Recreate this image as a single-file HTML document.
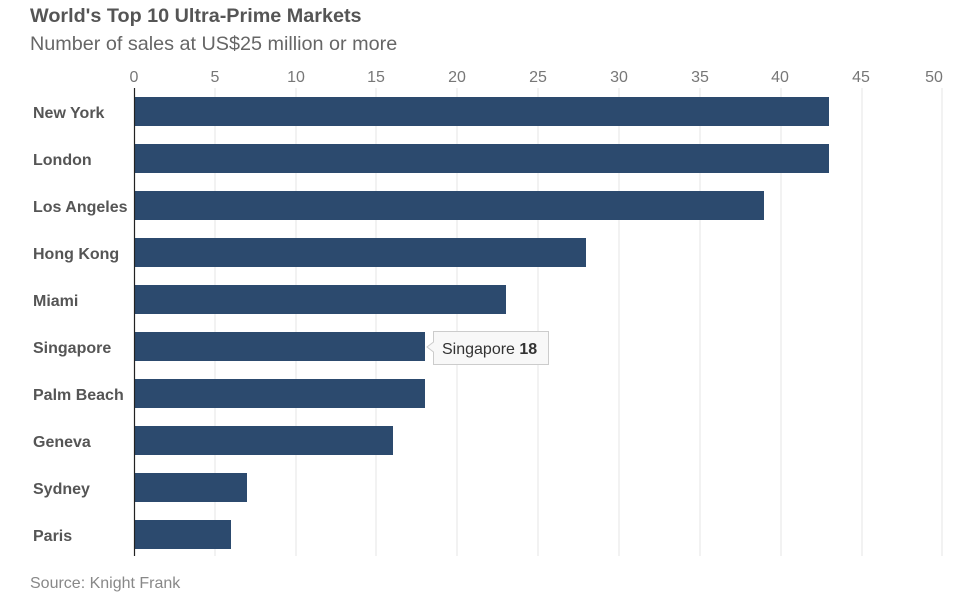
<!DOCTYPE html>
<html><head><meta charset="utf-8"><style>
body{margin:0;background:#fff;}
svg{display:block;font-family:"Liberation Sans",Arial,sans-serif;}
</style></head><body>
<svg width="960" height="614" viewBox="0 0 960 614">
<rect width="960" height="614" fill="#fff"/>
<text x="30" y="22" font-size="19.8" font-weight="bold" fill="#555">World's Top 10 Ultra-Prime Markets</text>
<text x="30" y="50" font-size="19.8" fill="#666">Number of sales at US$25 million or more</text>
<g fill="#777" font-size="16" text-anchor="middle">
<text x="134" y="82">0</text><text x="215" y="82">5</text><text x="296" y="82">10</text><text x="376" y="82">15</text><text x="457" y="82">20</text><text x="538" y="82">25</text><text x="619" y="82">30</text><text x="700" y="82">35</text><text x="780" y="82">40</text><text x="861" y="82">45</text><text x="934" y="82">50</text>
</g>
<g stroke="#e6e6e6" stroke-width="1">
<line x1="215" y1="88" x2="215" y2="556"/><line x1="296" y1="88" x2="296" y2="556"/><line x1="376" y1="88" x2="376" y2="556"/><line x1="457" y1="88" x2="457" y2="556"/><line x1="538" y1="88" x2="538" y2="556"/><line x1="619" y1="88" x2="619" y2="556"/><line x1="700" y1="88" x2="700" y2="556"/><line x1="781" y1="88" x2="781" y2="556"/><line x1="862" y1="88" x2="862" y2="556"/><line x1="942" y1="88" x2="942" y2="556"/>
</g>
<g fill="#2c4a6e">
<rect x="134" y="97" width="695" height="29"/>
<rect x="134" y="144" width="695" height="29"/>
<rect x="134" y="191" width="630" height="29"/>
<rect x="134" y="238" width="452" height="29"/>
<rect x="134" y="285" width="372" height="29"/>
<rect x="134" y="332" width="291" height="29"/>
<rect x="134" y="379" width="291" height="29"/>
<rect x="134" y="426" width="259" height="29"/>
<rect x="134" y="473" width="113" height="29"/>
<rect x="134" y="520" width="97" height="29"/>
</g>
<line x1="134.5" y1="88" x2="134.5" y2="556" stroke="#222" stroke-width="1.2"/>
<g fill="#555" font-size="16" font-weight="bold">
<text x="33" y="118">New York</text><text x="33" y="165">London</text><text x="33" y="212">Los Angeles</text><text x="33" y="259">Hong Kong</text><text x="33" y="306">Miami</text><text x="33" y="353">Singapore</text><text x="33" y="400">Palm Beach</text><text x="33" y="447">Geneva</text><text x="33" y="494">Sydney</text><text x="33" y="541">Paris</text>
</g>
<path d="M433.5 331.5 H548.5 V364.5 H433.5 V352 L427 347 L433.5 342 Z" fill="#f8f8f8" stroke="#ccc"/>
<text x="442" y="354" font-size="16" fill="#333">Singapore <tspan font-weight="bold">18</tspan></text>
<text x="30" y="588" font-size="16" fill="#888">Source: Knight Frank</text>
</svg>
</body></html>
